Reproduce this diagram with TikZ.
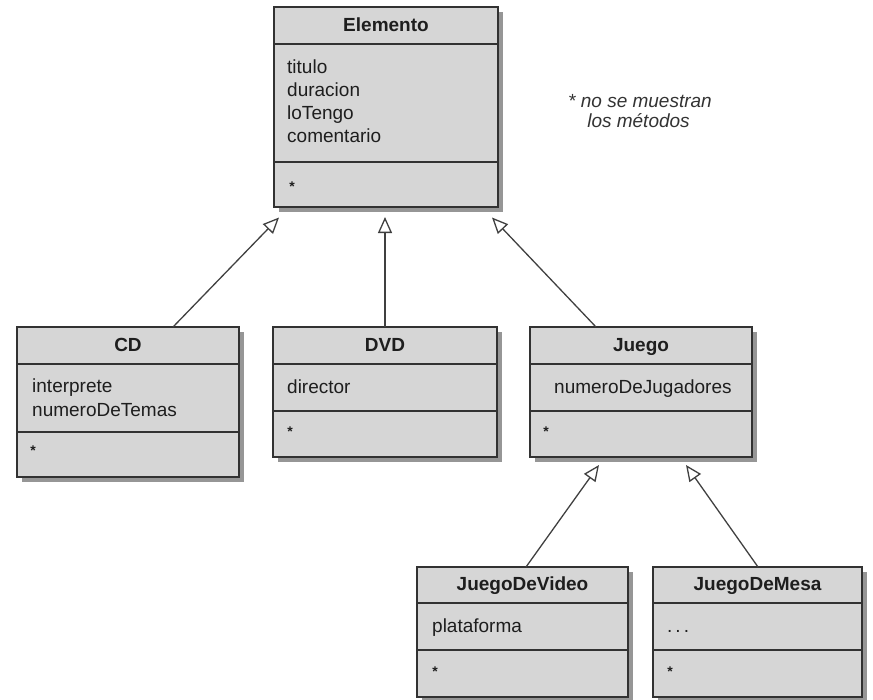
\documentclass[tikz,border=0pt]{standalone}
\usepackage{fontspec}
\setmainfont{Liberation Sans}
\usetikzlibrary{arrows.meta,shadows,calc}
\definecolor{boxfill}{RGB}{214,214,214}
\definecolor{boxshadow}{RGB}{150,150,150}
\definecolor{boxline}{RGB}{50,50,50}
\definecolor{txt}{RGB}{30,30,30}
\begin{document}
\begin{tikzpicture}[x=1pt,y=-1pt,
  cls/.style={draw=boxline, line width=1.3pt, fill=boxfill, anchor=north west,
    inner sep=0pt, outer sep=0pt,
    drop shadow={shadow xshift=5pt, shadow yshift=-5pt, fill=boxshadow, opacity=1}},
  sepline/.style={draw=boxline, line width=1.3pt},
  ctitle/.style={font=\fontsize{19}{22}\selectfont\bfseries, text=txt, inner sep=0pt, anchor=base},
  attr/.style={font=\fontsize{19}{23}\selectfont, text=txt, inner sep=0pt, anchor=base west},
  star/.style={font=\fontsize{14}{16}\selectfont\bfseries, text=txt, inner sep=0pt, anchor=base},
  note/.style={font=\fontsize{19}{21}\selectfont\itshape, text=black!80, inner sep=0pt, anchor=base},
  inh/.style={draw=black!75, line width=1.3pt, -{Triangle[length=16pt, width=14pt, fill=white]}}]
\useasboundingbox (0,0) rectangle (873,699);

% ---------- Elemento ----------
\node[cls, minimum width=224pt, minimum height=200pt] (elem) at (274,7) {};
\draw[sepline] ($(elem.north west)+(0,37)$) -- ($(elem.north east)+(0,37)$);
\draw[sepline] ($(elem.north west)+(0,155)$) -- ($(elem.north east)+(0,155)$);
\node[ctitle] (elemT) at ($(elem.north)+(0,24)$) {Elemento};
\node[attr] (elemA1) at ($(elem.north west)+(13,66)$) {titulo};
\node[attr] (elemA2) at ($(elem.north west)+(13,89.3)$) {duracion};
\node[attr] (elemA3) at ($(elem.north west)+(13,112.6)$) {loTengo};
\node[attr] (elemA4) at ($(elem.north west)+(13,135.9)$) {comentario};
\node[star] (elemM) at ($(elem.north west)+(18,184)$) {*};

% ---------- CD ----------
\node[cls, minimum width=222pt, minimum height=150pt] (cd) at (17,327) {};
\draw[sepline] ($(cd.north west)+(0,37)$) -- ($(cd.north east)+(0,37)$);
\draw[sepline] ($(cd.north west)+(0,105)$) -- ($(cd.north east)+(0,105)$);
\node[ctitle] (cdT) at ($(cd.north)+(0,24)$) {CD};
\node[attr] (cdA1) at ($(cd.north west)+(15,65)$) {interprete};
\node[attr] (cdA2) at ($(cd.north west)+(15,89)$) {numeroDeTemas};
\node[star] (cdM) at ($(cd.north west)+(16,128)$) {*};

% ---------- DVD ----------
\node[cls, minimum width=224pt, minimum height=130pt] (dvd) at (273,327) {};
\draw[sepline] ($(dvd.north west)+(0,37)$) -- ($(dvd.north east)+(0,37)$);
\draw[sepline] ($(dvd.north west)+(0,84)$) -- ($(dvd.north east)+(0,84)$);
\node[ctitle] (dvdT) at ($(dvd.north)+(0,24)$) {DVD};
\node[attr] (dvdA1) at ($(dvd.north west)+(14,66)$) {director};
\node[star] (dvdM) at ($(dvd.north west)+(17,109)$) {*};

% ---------- Juego ----------
\node[cls, minimum width=222pt, minimum height=130pt] (juego) at (530,327) {};
\draw[sepline] ($(juego.north west)+(0,37)$) -- ($(juego.north east)+(0,37)$);
\draw[sepline] ($(juego.north west)+(0,84)$) -- ($(juego.north east)+(0,84)$);
\node[ctitle] (juegoT) at ($(juego.north)+(0,24)$) {Juego};
\node[attr] (juegoA1) at ($(juego.north west)+(24,66)$) {numeroDeJugadores};
\node[star] (juegoM) at ($(juego.north west)+(16,109)$) {*};

% ---------- JuegoDeVideo ----------
\node[cls, minimum width=211pt, minimum height=130pt] (jdv) at (417,567) {};
\draw[sepline] ($(jdv.north west)+(0,36)$) -- ($(jdv.north east)+(0,36)$);
\draw[sepline] ($(jdv.north west)+(0,83)$) -- ($(jdv.north east)+(0,83)$);
\node[ctitle] (jdvT) at ($(jdv.north)+(0,23.5)$) {JuegoDeVideo};
\node[attr] (jdvA1) at ($(jdv.north west)+(15,65)$) {plataforma};
\node[star] (jdvM) at ($(jdv.north west)+(18,109)$) {*};

% ---------- JuegoDeMesa ----------
\node[cls, minimum width=209pt, minimum height=130pt] (jdm) at (653,567) {};
\draw[sepline] ($(jdm.north west)+(0,36)$) -- ($(jdm.north east)+(0,36)$);
\draw[sepline] ($(jdm.north west)+(0,83)$) -- ($(jdm.north east)+(0,83)$);
\node[ctitle] (jdmT) at ($(jdm.north)+(0,23.5)$) {JuegoDeMesa};
\node[attr] (jdmA1) at ($(jdm.north west)+(14,65)$) {.\hspace{3pt}.\hspace{3pt}.};
\node[star] (jdmM) at ($(jdm.north west)+(17,109)$) {*};

% ---------- note ----------
\node[note] (note1) at (640,107) {* no se muestran};
\node[note] (note2) at (638.5,127.5) {los métodos};

% ---------- inheritance ----------
\coordinate (tipCD) at ($(elem.south west)+(5,10.5)$);
\coordinate (tipDVD) at ($(elem.south)+(-1,10)$);
\coordinate (tipJ) at ($(elem.south east)+(-6,10.5)$);
\coordinate (tipJDV) at ($(juego.south west)+(69,8)$);
\coordinate (tipJDM) at ($(juego.south west)+(156,8)$);
\draw[inh] ($(cd.north west)+(156,0)$) -- (tipCD);
\draw[inh] ($(dvd.north west)+(112,0)$) -- (tipDVD);
\draw[inh] ($(juego.north west)+(66,0)$) -- (tipJ);
\draw[inh] ($(jdv.north west)+(109,0)$) -- (tipJDV);
\draw[inh] ($(jdm.north west)+(105,0)$) -- (tipJDM);
\end{tikzpicture}
\end{document}
